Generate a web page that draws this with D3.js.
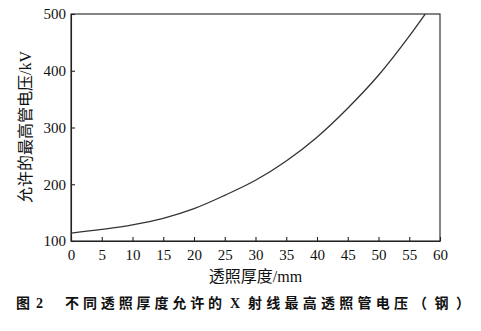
<!DOCTYPE html>
<html>
<head>
<meta charset="utf-8">
<script src="https://cdn.jsdelivr.net/npm/d3@7"></script>
<style>
  html, body { margin: 0; padding: 0; background: #fff; }
  svg { display: block; }
</style>
</head>
<body>
<div id="chart"></div>
<script>
// --------- data ---------
const thickness = [0, 5, 10, 15, 20, 25, 30, 35, 40, 45, 50, 55, 57.6];
const voltage = [114, 120.5, 128.5, 140, 157, 180.5, 207, 241, 283, 334, 392, 461, 500];
const xTicks = [0, 5, 10, 15, 20, 25, 30, 35, 40, 45, 50, 55, 60];
const yTicks = [100, 200, 300, 400, 500];

const width = 481, height = 331;
const margin = { top: 14, right: 41, bottom: 90, left: 71 };
const serif = '"Liberation Serif", "Times New Roman", serif';
const cjk = '"Noto Sans CJK SC", sans-serif';

const svg = d3.select('#chart').append('svg')
    .attr('width', width)
    .attr('height', height);

const x = d3.scaleLinear().domain([0, 60]).range([margin.left, width - margin.right]);
const y = d3.scaleLinear().domain([100, 500]).range([height - margin.bottom, margin.top]);

// frame
svg.append('rect')
    .attr('x', x(0)).attr('y', y(500))
    .attr('width', x(60) - x(0)).attr('height', y(100) - y(500))
    .attr('fill', 'none').attr('stroke', '#222').attr('stroke-width', 1.1);

// axes with inward ticks
const xAxis = svg.append('g')
    .attr('transform', `translate(0,${y(100)})`)
    .call(d3.axisBottom(x).tickValues(xTicks).tickSizeInner(-4).tickSizeOuter(0).tickPadding(8));
const yAxis = svg.append('g')
    .attr('transform', `translate(${x(0)},0)`)
    .call(d3.axisLeft(y).tickValues(yTicks).tickSizeInner(-4).tickSizeOuter(0).tickPadding(5));

[xAxis, yAxis].forEach(g => {
    g.select('.domain').attr('stroke', '#222').attr('stroke-width', 1.1);
    g.selectAll('.tick line').attr('stroke', '#222').attr('stroke-width', 1.1);
    g.selectAll('.tick text')
        .attr('fill', '#111')
        .style('font-family', serif)
        .style('font-size', '15px');
});

// curve
const line = d3.line()
    .x((d, i) => x(thickness[i]))
    .y(d => y(d))
    .curve(d3.curveMonotoneX);

svg.append('path')
    .datum(voltage)
    .attr('d', line)
    .attr('fill', 'none')
    .attr('stroke', '#333')
    .attr('stroke-width', 1.3);

// axis titles
svg.append('text')
    .attr('x', (x(0) + x(60)) / 2)
    .attr('y', 282)
    .attr('text-anchor', 'middle')
    .attr('fill', '#111')
    .style('font-size', '16px')
    .html(`<tspan style='font-family:${cjk}'>透照厚度</tspan><tspan style='font-family:${serif}'>/mm</tspan>`);

svg.append('text')
    .attr('transform', `translate(31,127) rotate(-90)`)
    .attr('text-anchor', 'middle')
    .attr('fill', '#111')
    .style('font-size', '16px')
    .html(`<tspan style='font-family:${cjk}'>允许的最高管电压</tspan><tspan style='font-family:${serif}'>/kV</tspan>`);

// caption
const caption = [
    { t: '图', x: 16, w: 13, f: cjk },
    { t: '2', x: 36, w: 7, f: serif },
    { t: '不同透照厚度允许的', x: 65, w: 157, f: cjk },
    { t: 'X', x: 230, w: 10, f: serif },
    { t: '射线最高透照管电压', x: 248, w: 160, f: cjk },
    { t: '（钢）', x: 413, w: 57, f: cjk }
];
svg.selectAll('text.caption')
    .data(caption)
    .enter().append('text')
    .attr('class', 'caption')
    .attr('x', d => d.x)
    .attr('y', 308)
    .attr('textLength', d => d.w)
    .attr('lengthAdjust', 'spacing')
    .attr('fill', '#111')
    .style('font-family', d => d.f)
    .style('font-weight', 'bold')
    .style('font-size', '14px')
    .text(d => d.t);
</script>
</body>
</html>
